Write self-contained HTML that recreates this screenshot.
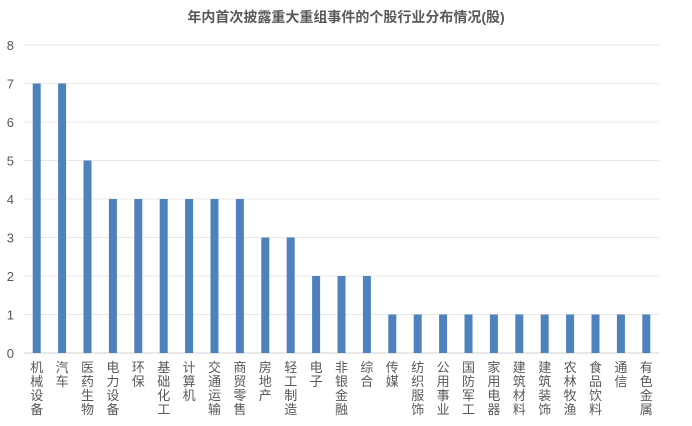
<!DOCTYPE html>
<html><head><meta charset="utf-8"><style>
body{margin:0;background:#fff;font-family:"Liberation Sans","Noto Sans CJK SC",sans-serif;}
</style></head><body>
<svg id="c" width="692" height="421" xmlns="http://www.w3.org/2000/svg">
<text x="346" y="22" text-anchor="middle" font-size="14" font-weight="bold" fill="#595959" font-family="Liberation Sans, Noto Sans CJK SC, sans-serif">年内首次披露重大重组事件的个股行业分布情况(股)</text>
</svg>
<script>
const categories=["机械设备","汽车","医药生物","电力设备","环保","基础化工","计算机","交通运输","商贸零售","房地产","轻工制造","电子","非银金融","综合","传媒","纺织服饰","公用事业","国防军工","家用电器","建筑材料","建筑装饰","农林牧渔","食品饮料","通信","有色金属"];
const values=[7,7,5,4,4,4,4,4,4,3,3,2,2,2,1,1,1,1,1,1,1,1,1,1,1];
const yTicks=[0,1,2,3,4,5,6,7,8];
const svg=document.getElementById('c');const NS='http://www.w3.org/2000/svg';
const x0=24,x1=659,y0=353,y1=45,yMax=8;
const band=(x1-x0)/categories.length;
const xs=i=>x0+band*(i+0.5);
const ys=v=>y0-(y0-y1)*v/yMax;
function mk(t,a){const e=document.createElementNS(NS,t);for(const k in a)e.setAttribute(k,a[k]);svg.appendChild(e);return e;}
yTicks.forEach(t=>{
 const g=mk('line',{x1:x0,x2:x1,y1:ys(t),y2:ys(t),stroke:t===0?'#d0d0d0':'#e8e8e8','stroke-width':1});
 
 
 const l=mk('text',{x:14,y:ys(t)+5,'text-anchor':'end','font-size':13,fill:'#595959'});
 l.textContent=t;
 
 
});
categories.forEach((c,i)=>{
 const b=mk('rect',{x:xs(i)-4,y:ys(values[i]),width:8,height:y0-ys(values[i]),fill:'#4f81bd'});
 
 
 const t=mk('text',{'font-size':13,fill:'#595959','text-anchor':'middle'});
 
 
 [...c].forEach((ch,j)=>{const s=document.createElementNS(NS,'tspan');s.setAttribute('x',xs(i));s.setAttribute('y',372+j*14);s.textContent=ch;t.appendChild(s);});
});
</script>
</body></html>
